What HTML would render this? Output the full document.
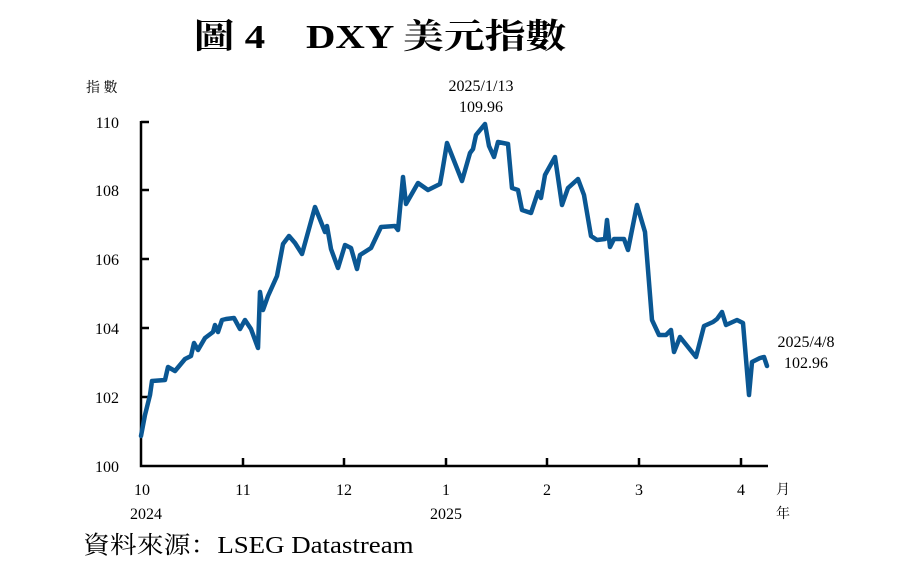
<!DOCTYPE html>
<html><head><meta charset="utf-8"><style>
html,body{margin:0;padding:0;background:#fff;}
</style></head><body>
<svg width="908" height="583" viewBox="0 0 908 583" xmlns="http://www.w3.org/2000/svg" style="display:block">
<g font-family="'Liberation Serif','Noto Serif CJK SC',serif" fill="#000">
<text x="380" y="48" font-size="34" font-weight="bold" text-anchor="middle" transform="translate(380 0) scale(1.2 1) translate(-380 0)">圖 4　DXY 美元指數</text>
<text x="86" y="92" font-size="14">指 數</text>
<g font-size="16" text-anchor="end">
<text x="119" y="128">110</text><text x="119" y="196">108</text><text x="119" y="265">106</text>
<text x="119" y="334">104</text><text x="119" y="403">102</text><text x="119" y="472">100</text>
</g>
<g font-size="16" text-anchor="middle">
<text x="142" y="495">10</text><text x="243" y="495">11</text><text x="344" y="495">12</text>
<text x="446" y="495">1</text><text x="547" y="495">2</text><text x="639" y="495">3</text><text x="741" y="495">4</text>
<text x="146" y="519">2024</text><text x="446" y="519">2025</text>
<text x="783" y="494" font-size="14">月</text><text x="783" y="518" font-size="14">年</text>
<text x="481" y="91">2025/1/13</text><text x="481" y="112">109.96</text>
<text x="806" y="347">2025/4/8</text><text x="806" y="368">102.96</text>
</g>
<text x="83" y="553" font-size="24" transform="translate(83 0) scale(1.12 1) translate(-83 0)">資料來源：LSEG Datastream</text>
</g>
<g stroke="#000" stroke-width="2.5" fill="none">
<path d="M141 121V466H768"/>
<path d="M141 122h8M141 190h8M141 259h8M141 328h8M141 397h8"/>
<path d="M243 466v-8M344 466v-8M446 466v-8M547 466v-8M639 466v-8M741 466v-8"/>
</g>
<polyline fill="none" stroke="#0a5793" stroke-width="4.5" stroke-linejoin="round" stroke-linecap="round" points="141,436 145,415 150,395 152,381 165,380 168,367 175,371 185,359 191,356 194,343 198,350 205,338 213,332 215,325 218,332 222,320 226,319 234,318 240,329 245,320 251,329 258,348 260,292 263,310 268,296 277,276 283,244 289,236 295,243 302,254 315,207 325,232 327,226 331,249 338,268 345,245 351,248 357,269 360,255 371,248 381,227 395,226 398,230 403,177 406,204 418,183 428,190 440,184 442,173 447,143 462,181 470,153 473,149 476,135 485,124 489,146 494,157 498,142 508,144 512,188 518,190 522,210 531,213 538,192 541,198 545,175 555,157 562,205 568,188 578,179 584,195 591,236 597,240 605,239 607,220 610,247 614,239 624,239 628,250 637,205 645,232 652,320 659,335 666,335 671,330 674,352 680,337 696,357 704,326 713,322 717,319 722,312 726,325 737,320 743,323 749,395 752,362 760,358 764,357 767,366"/>
</svg>
</body></html>
